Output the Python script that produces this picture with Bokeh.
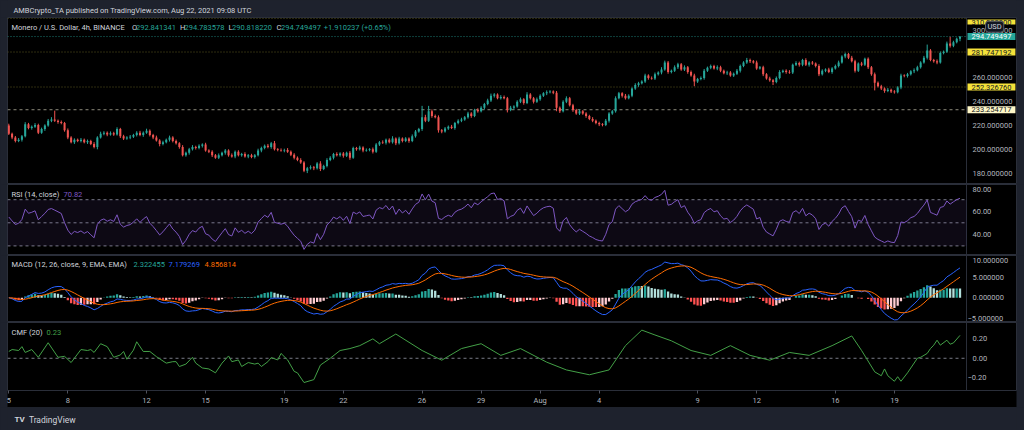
import numpy as np
import pandas as pd
from bokeh.plotting import figure
from bokeh.layouts import column
from bokeh.models import Range1d, Span, BoxAnnotation, Label, FixedTicker
from bokeh.core.properties import value
from bokeh.embed import file_html
from bokeh.resources import INLINE

# ---------------- data ----------------
start_time = "2021-07-05 00:00"          # first 4h candle
first_open = 220.0
closes = [
    213, 210, 207, 208, 211, 221, 218, 219, 220.5, 214,
    217, 220, 224, 225, 224, 223, 222, 216, 210, 206,
    208, 207, 208, 206, 207, 204.5, 202, 210, 213, 214,
    212.5, 213.5, 212.5, 217, 211, 209, 210, 210.5, 212, 214,
    212, 214, 215.5, 212, 210, 207.5, 204.5, 206, 208, 210,
    207, 205, 202, 195, 197, 200, 202, 201, 203, 204,
    199, 198, 195, 193, 195, 197, 199, 195, 194, 198,
    195, 196, 194, 195, 193.5, 195, 199, 201, 203, 202,
    205, 200, 199.5, 199, 199.5, 198, 195.5, 193, 191, 189,
    182, 184, 185, 184, 188, 183.5, 186, 191, 193, 196,
    195, 196.5, 194.5, 197, 193, 201, 200, 201.5, 199, 199.5,
    200, 198, 204, 206, 205.5, 208, 206, 209, 205, 209,
    207, 209, 207, 211, 215, 217, 227, 224, 232, 228,
    227, 216, 215, 217.5, 219, 218, 222, 224, 225, 227,
    230, 228, 233, 232, 235, 238, 241, 245, 246, 243,
    244, 243, 233, 235, 236, 240, 242, 239, 246, 243,
    240, 242, 245, 247, 248, 248.5, 247.5, 235, 232, 240,
    243, 237, 233, 230, 232, 230, 228, 225.5, 224, 222,
    221, 220.5, 224, 230, 232, 243, 247, 245, 243, 245,
    251, 254, 255.5, 257, 262, 260, 259.5, 263, 264.5, 267,
    273, 265, 266, 269, 271.5, 267, 269, 265, 262, 257,
    259, 260, 266, 268.5, 270, 268, 269, 266, 264, 264.5,
    262, 263.5, 266, 270, 273, 275, 274, 273, 268, 269,
    263, 259.5, 258, 256.5, 260, 265, 266, 265, 264.5, 271,
    272.5, 271, 275, 271, 273, 272, 270, 263, 266, 267,
    265, 268, 270, 273, 278, 280, 277, 274, 266, 272,
    271, 276, 269, 263, 256, 253, 251, 249, 250, 248.5,
    248, 252, 262, 261.5, 263, 265.5, 266.5, 269, 273, 277,
    283, 275, 274, 273, 281, 282, 289, 287, 290, 292.841341,
    294.749497,
]
wick_up = [
    1.5, 1.0, 1.2, 1.5, 1.0, 1.8, 1.2, 1.0, 1.5, 1.0,
    1.2, 1.0, 1.5, 2.0, 7.5, 1.0, 1.2, 1.0, 1.5, 1.0,
    1.2, 1.0, 1.5, 1.0, 1.2, 1.0, 1.5, 1.0, 1.8, 1.2,
    1.0, 1.5, 1.2, 1.5, 1.0, 1.2, 1.0, 1.5, 1.0, 1.2,
    1.5, 1.0, 1.8, 1.2, 1.0, 1.5, 1.0, 1.2, 1.0, 1.5,
    1.0, 1.2, 1.0, 1.5, 1.0, 1.2, 1.5, 1.0, 1.2, 1.0,
    1.5, 1.0, 1.2, 1.0, 1.5, 1.0, 1.2, 1.0, 1.5, 1.0,
    1.2, 1.0, 1.5, 1.0, 1.2, 1.0, 1.5, 1.2, 1.0, 1.5,
    1.2, 2.0, 1.0, 1.2, 1.0, 1.5, 1.0, 1.2, 1.0, 1.5,
    1.0, 1.2, 1.5, 1.0, 1.2, 2.0, 1.0, 1.5, 1.2, 1.0,
    1.5, 1.0, 1.2, 1.0, 1.5, 1.2, 1.0, 1.5, 1.0, 1.2,
    1.0, 1.5, 1.2, 1.0, 1.5, 1.0, 1.2, 2.0, 1.0, 1.5,
    1.0, 1.2, 1.0, 1.5, 1.2, 1.0, 9.5, 2.0, 4.5, 1.5,
    1.2, 1.5, 1.0, 1.2, 1.0, 1.5, 1.0, 1.2, 1.5, 1.0,
    1.5, 1.2, 1.0, 1.5, 1.2, 1.0, 1.5, 1.8, 1.2, 1.0,
    1.5, 1.2, 1.0, 1.5, 1.0, 1.2, 1.5, 1.0, 2.0, 1.2,
    1.0, 1.5, 1.2, 1.0, 1.5, 1.2, 1.0, 1.5, 1.0, 1.2,
    1.5, 1.0, 1.2, 1.0, 1.5, 1.0, 1.2, 1.0, 1.5, 1.0,
    1.2, 1.0, 1.5, 1.2, 1.0, 1.5, 1.2, 1.0, 1.5, 1.2,
    1.0, 1.5, 1.2, 1.0, 1.5, 1.0, 1.2, 1.5, 1.0, 2.0,
    1.5, 1.2, 1.0, 1.5, 1.2, 1.0, 1.5, 1.0, 1.2, 1.5,
    1.0, 1.2, 1.5, 1.0, 1.2, 1.0, 1.5, 1.2, 1.0, 1.5,
    1.2, 1.0, 1.5, 1.2, 1.0, 1.8, 1.2, 1.0, 1.5, 1.0,
    1.2, 1.0, 1.5, 1.0, 1.2, 1.5, 1.0, 1.2, 1.5, 1.0,
    1.5, 1.2, 1.0, 1.5, 1.0, 1.2, 1.0, 1.5, 1.2, 1.0,
    1.5, 1.0, 1.2, 1.5, 1.0, 1.2, 1.0, 1.5, 1.2, 1.0,
    1.5, 1.0, 1.2, 1.0, 1.5, 1.0, 1.2, 1.0, 1.5, 1.0,
    1.2, 1.0, 1.5, 1.0, 1.2, 1.0, 1.5, 1.2, 1.0, 1.5,
    5.0, 1.2, 1.0, 1.5, 1.2, 1.0, 1.5, 5.5, 1.2, 1.0,
    0.034081,
]
wick_dn = [
    1.0, 1.5, 1.2, 1.0, 1.5, 1.0, 1.2, 1.5, 1.0, 1.2,
    1.0, 1.5, 1.0, 1.2, 1.0, 1.5, 1.0, 1.2, 1.5, 1.0,
    1.5, 1.0, 1.2, 1.0, 1.5, 1.0, 1.2, 2.0, 1.0, 1.2,
    1.5, 1.0, 1.2, 1.0, 1.5, 1.2, 1.0, 1.5, 1.0, 1.2,
    1.0, 1.5, 1.0, 1.2, 1.5, 1.0, 2.0, 1.2, 1.0, 1.5,
    1.2, 1.0, 1.5, 1.0, 1.2, 1.5, 1.0, 1.2, 1.0, 1.5,
    1.0, 1.2, 1.5, 1.0, 1.2, 1.0, 1.5, 1.2, 1.0, 1.5,
    1.0, 1.2, 1.0, 1.5, 1.0, 1.2, 1.0, 1.5, 1.0, 1.2,
    1.5, 1.0, 1.2, 1.0, 1.5, 1.0, 1.2, 1.5, 1.0, 1.2,
    1.2, 2.0, 1.0, 1.5, 1.0, 1.8, 1.0, 1.2, 1.0, 1.5,
    1.0, 1.2, 1.5, 1.0, 1.8, 1.0, 1.2, 1.0, 1.5, 1.0,
    1.2, 1.5, 1.0, 1.2, 1.0, 1.5, 1.0, 1.2, 1.5, 1.0,
    1.2, 1.0, 1.5, 1.0, 1.2, 1.0, 1.5, 1.2, 1.0, 1.5,
    1.0, 2.0, 1.5, 1.0, 1.2, 1.0, 1.5, 1.0, 1.2, 1.0,
    1.2, 1.5, 1.0, 1.2, 1.0, 1.5, 1.0, 1.2, 1.5, 1.0,
    1.2, 1.0, 2.0, 1.0, 1.5, 1.0, 1.2, 1.5, 1.0, 1.2,
    1.5, 1.0, 1.2, 1.0, 1.5, 1.0, 1.2, 3.0, 1.5, 1.0,
    1.2, 1.0, 1.5, 1.0, 1.2, 1.0, 1.5, 1.0, 1.2, 1.0,
    1.5, 1.2, 1.0, 1.5, 1.0, 1.2, 1.0, 1.5, 1.2, 1.0,
    1.2, 1.0, 1.5, 1.0, 1.2, 1.5, 1.0, 1.2, 1.0, 1.5,
    1.0, 1.5, 1.2, 1.0, 1.5, 1.0, 1.2, 1.5, 1.0, 4.0,
    1.2, 1.0, 1.5, 1.0, 1.2, 1.0, 1.5, 1.2, 1.0, 1.5,
    1.0, 1.2, 1.0, 1.5, 1.0, 1.2, 1.5, 1.0, 1.2, 1.0,
    1.5, 1.0, 1.2, 2.5, 1.0, 1.2, 1.0, 1.5, 1.0, 1.2,
    1.0, 1.5, 1.2, 1.0, 1.5, 1.0, 1.2, 1.5, 1.0, 1.2,
    1.0, 1.5, 1.0, 1.2, 1.0, 1.5, 1.2, 1.0, 1.5, 1.0,
    1.2, 1.0, 1.5, 1.2, 6.5, 1.0, 1.2, 1.5, 1.0, 1.2,
    1.2, 1.0, 1.5, 1.0, 1.2, 1.0, 1.5, 1.0, 1.2, 1.0,
    1.5, 1.0, 1.2, 1.5, 1.0, 1.2, 1.0, 1.5, 1.2, 1.0,
    2.023121,
]
cmf_idx = [0, 1, 3, 4, 5, 7, 9, 12, 15, 17, 19, 22, 24, 25, 26, 28, 30, 32, 34, 35,
           36, 38, 39, 41, 43, 45, 48, 50, 51, 52, 54, 56, 57, 59, 61, 63, 65, 67, 68, 70,
           71, 73, 75, 76, 77, 79, 80, 82, 83, 85, 87, 88, 90, 93, 95, 98, 101, 104, 107, 111,
           113, 118, 126, 132, 138, 144, 150, 156, 164, 170, 177, 183, 188, 193, 197, 202, 208, 214, 220, 226,
           232, 238, 244, 251, 257, 260, 264, 266, 267, 268, 270, 271, 272, 274, 277, 278, 280, 281, 282, 283,
           284, 286, 287, 288, 290]
cmf_val = [0.07, 0.09, 0.08, 0.12, 0.06, 0.09, 0.01, 0.16, 0.01, 0.02,
           -0.044, 0.09, 0.08, 0.09, 0.06, 0.15, 0.12, 0.01, 0.034, 0.07,
           -0.01, 0.084, 0.17, 0.07, 0.07, 0.017, -0.05, -0.035, -0.035, -0.085,
           -0.06, 0.01, -0.05, -0.1, -0.11, -0.15, -0.05, 0.024, -0.035, -0.017,
           -0.085, -0.044, -0.06, -0.05, -0.085, -0.035, 0.007, -0.017, 0.05, -0.017,
           -0.135, -0.15, -0.25, -0.22, -0.07, 0.0, 0.08, 0.1, 0.13, 0.2,
           0.15, 0.25, 0.08, -0.02, 0.1, 0.15, 0.03, 0.1, -0.04, -0.12,
           -0.17, -0.12, 0.13, 0.29, 0.24, 0.18, 0.08, 0.03, 0.13, 0.03,
           -0.02, 0.06, 0.03, 0.13, 0.23, 0.08, -0.14, -0.18, -0.11, -0.18,
           -0.237, -0.19, -0.237, -0.15, 0.0, 0.01, 0.05, 0.1, 0.135, 0.186,
           0.135, 0.186, 0.145, 0.158, 0.236]

tick_dates = ["2021-07-05", "2021-07-08", "2021-07-12", "2021-07-15", "2021-07-19",
              "2021-07-22", "2021-07-26", "2021-07-29", "2021-08-01", "2021-08-04",
              "2021-08-09", "2021-08-12", "2021-08-16", "2021-08-19"]
tick_labels = ["5", "8", "12", "15", "19", "22", "26", "29", "Aug", "4", "9", "12", "16", "19"]
price_ticks = [180, 200, 220, 240, 260, 300]
rsi_ticks = [40, 60, 80]
macd_ticks = [-5, 0, 5, 10]
cmf_ticks = [-0.2, 0.0, 0.2]
levels_yellow = [310.0, 281.747192, 252.326760]
level_pale = 233.254717
last_price = 294.749497

title_text = "AMBCrypto_TA published on TradingView.com, Aug 22, 2021 09:08 UTC"
symbol_text = "Monero / U.S. Dollar, 4h, BINANCE"
ohlc_text = [("O", "292.841341"), ("H", "294.783578"), ("L", "290.818220"), ("C", "294.749497")]
change_text = "+1.910237 (+0.65%)"
rsi_title, rsi_last = "RSI (14, close)", "70.82"
macd_title, macd_last = "MACD (12, 26, close, 9, EMA, EMA)", ["2.322455", "7.179269", "4.856814"]
cmf_title, cmf_last = "CMF (20)", "0.23"
logo_text = "TradingView"

# ---------------- derived series ----------------
assert len(closes) == len(wick_up) == len(wick_dn)
assert len(cmf_idx) == len(cmf_val)
c = np.array(closes, dtype=float)
o = np.r_[first_open, c[:-1]]
h = np.maximum(o, c) + np.array(wick_up)
l = np.minimum(o, c) - np.array(wick_dn)
n = len(c)
x = np.arange(n)
t0 = pd.Timestamp(start_time)
tick_pos = [int((pd.Timestamp(d) - t0) / pd.Timedelta(hours=4)) for d in tick_dates]

UP, DN = "#26a69a", "#ef5350"
col = np.where(c >= o, UP, DN)

# RSI 14 (Wilder smoothing, seeded with the mean of the first 14 changes)
d = np.diff(c, prepend=first_open)
g = np.clip(d, 0, None)
ls = np.clip(-d, 0, None)
ag = np.empty(n)
al = np.empty(n)
ag[0], al[0] = g[:14].mean(), ls[:14].mean()
for i in range(1, n):
    ag[i] = (ag[i - 1] * 13 + g[i]) / 14
    al[i] = (al[i - 1] * 13 + ls[i]) / 14
rsi = 100 - 100 / (1 + ag / al)

# MACD 12/26/9
s = pd.Series(c)
macd = (s.ewm(span=12, adjust=False).mean() - s.ewm(span=26, adjust=False).mean()).values
sig = pd.Series(macd).ewm(span=9, adjust=False).mean().values
hist = macd - sig
prev = np.r_[hist[0], hist[:-1]]
hcol = np.where(hist >= 0, np.where(hist >= prev, "#26a69a", "#b2dfdb"),
                np.where(hist < prev, "#ff5252", "#ffcdd2"))

# ---------------- layout geometry (page pixels) ----------------
BG = "#1e222d"
TXT = "#b2b5be"
HEAD = "#d1d4dc"
SEP = "#2a2e39"
FONT = "Roboto"
W = 1024
PX0, PXSTEP = 8.3, 3.28       # page x of first candle, px per candle
FRAME_L, FRAME_R, SCALE_X = 7, 1016, 966
panes = {                      # top, bottom, anchor value, anchor page y, px per unit
    "price": (17, 184, 220.0, 125.0, 1.19),
    "rsi": (184, 255, 50.0, 222.3, 1.155),
    "macd": (255, 322, 0.0, 297.3, 4.07),
    "cmf": (322, 391, 0.0, 358.3, 98.5),
}


def xd(px):
    return (px - PX0) / PXSTEP


def yd(name, py):
    top, bot, a, ay, k = panes[name]
    return a + (ay - py) / k


def ypx(name, v):
    top, bot, a, ay, k = panes[name]
    return ay - (v - a) * k


def inside(name, v, half):
    """keep a text of half-height `half` (px) inside its pane"""
    top, bot = panes[name][:2]
    py = min(max(ypx(name, v), top + half), bot - half)
    return yd(name, py)


def yrange(name):
    top, bot, a, ay, k = panes[name]
    return Range1d(yd(name, bot), yd(name, top))


xr = Range1d(xd(FRAME_L), xd(FRAME_R))
XSEP = xd(SCALE_X)


def mk(name, xaxis=False, bottom_border=0):
    top, bot = panes[name][:2]
    p = figure(width=W, height=(bot - top) + bottom_border, x_range=xr, y_range=yrange(name),
               output_backend="svg", toolbar_location=None, tools="",
               y_axis_location=None, x_axis_location="below" if xaxis else None,
               min_border=0, min_border_left=FRAME_L, min_border_right=W - FRAME_R,
               min_border_top=0, min_border_bottom=bottom_border,
               background_fill_color="#000000", border_fill_color=BG,
               outline_line_color=SEP)
    p.xgrid.visible = False
    p.ygrid.visible = False
    p.add_layout(Span(location=XSEP, dimension="height", line_color=SEP, line_width=1))
    return p


def strip(height, top):
    p = figure(width=W, height=height, x_range=Range1d(0, W), y_range=Range1d(top + height, top),
               output_backend="svg", toolbar_location=None, tools="",
               x_axis_location=None, y_axis_location=None, min_border=0,
               background_fill_color=BG, border_fill_color=BG, outline_line_color=None)
    p.xgrid.visible = False
    p.ygrid.visible = False
    return p


def scale_labels(p, name, ticks, fmt, px=972):
    labs = [(fmt % v).replace("-", "\u2212") for v in ticks]
    xs = [xd(px - (5 if v < 0 else 0)) for v in ticks]
    ys = [inside(name, v, 4.5) for v in ticks]
    p.text(x=xs, y=ys, text=labs, text_font=value(FONT), text_font_size="7.5px",
           text_color=TXT, text_baseline="middle", text_align="left")


def level(p, y, color, dash):
    p.segment(x0=[xr.start], y0=[y], x1=[XSEP], y1=[y], line_color=color,
              line_dash=dash, line_width=1)


def text(p, pane, s, px, py, color=TXT, size="7.5px", style="normal"):
    yy = yd(pane, py) if pane else py
    p.add_layout(Label(x=xd(px) if pane else px, y=yy, text=s, text_color=color,
                       text_font=FONT, text_font_size=size, text_font_style=style,
                       text_baseline="middle", text_align="left"))


def tag(p, lv, bg, fg, half=5.5, pad=None):
    p.add_layout(Label(x=xd(967), y=inside("price", lv, half), text=f"{lv:.6f}",
                       text_color=fg, text_font=FONT, text_font_size="7.5px",
                       text_baseline="middle", text_align="left",
                       background_fill_color=bg,
                       padding=pad or dict(left=4, right=4, top=1, bottom=1)))


# ---------------- title strip ----------------
p0 = strip(17, 0)
text(p0, None, title_text, 6, 9.5, color=HEAD)

# ---------------- price pane ----------------
p1 = mk("price")
scale_labels(p1, "price", price_ticks, "%.6f")
for lv in levels_yellow:
    level(p1, lv, "#5b5720", "1 2")
level(p1, level_pale, "#8d8b7c", "3 3")
level(p1, last_price, "#1d7d74", "1 2")
p1.segment(x, h, x, l, color=col, line_width=1)
p1.vbar(x=x, width=0.62, top=np.maximum(o, c), bottom=np.minimum(o, c),
        fill_color=col, line_color=None)

text(p1, "price", symbol_text, 11, 27.3, color=HEAD)
ohlc_x = [(131.5, 135.5), (179.5, 184.0), (228.0, 231.5), (276.0, 280.5)]
for (lab, val), (lx, vx) in zip(ohlc_text, ohlc_x):
    text(p1, "price", lab, lx, 27.3, color=HEAD)
    text(p1, "price", val, vx, 27.3, color=UP)
text(p1, "price", change_text, 323.3, 27.3, color=UP)

# price tags on the scale; the top one, then the "USD" badge, then the others
tag(p1, levels_yellow[0], "#f5e23a", "#131722", half=4.5,
    pad=dict(left=4, right=4, top=0, bottom=0))
p1.add_layout(Label(x=xd(985), y=yd("price", 26.2), text="USD", text_color=HEAD,
                    text_font=FONT, text_font_size="7.5px", text_baseline="middle",
                    text_align="left", background_fill_color="#131722",
                    border_line_color="#5d606b", border_radius=3,
                    padding=dict(left=2, right=2, top=1, bottom=1)))
tag(p1, levels_yellow[1], "#f5e23a", "#131722")
tag(p1, levels_yellow[2], "#f5e23a", "#131722")
tag(p1, level_pale, "#fff8c8", "#131722")
tag(p1, last_price, "#26a69a", "#ffffff")

# ---------------- RSI pane ----------------
p2 = mk("rsi")
scale_labels(p2, "rsi", rsi_ticks, "%.2f")
p2.add_layout(BoxAnnotation(bottom=30, top=70, right=XSEP, fill_color="#7e57c2",
                            fill_alpha=0.1, line_color=None))
for lv in (70, 50, 30):
    level(p2, lv, "#787b86", "3 3")
p2.line(x, rsi, color="#7e57c2", line_width=1)
text(p2, "rsi", rsi_title, 11, 194, color=HEAD)
text(p2, "rsi", rsi_last, 63, 194, color="#7e57c2")

# ---------------- MACD pane ----------------
p3 = mk("macd")
scale_labels(p3, "macd", macd_ticks, "%.6f")
p3.vbar(x=x, width=0.7, top=hist, bottom=0, fill_color=hcol, line_color=None)
p3.line(x, macd, color="#2962ff", line_width=1)
p3.line(x, sig, color="#ff6d00", line_width=1)
text(p3, "macd", macd_title, 11, 264.3, color=HEAD)
for s_, px_, cl in zip(macd_last, (133, 168, 204), ("#26a69a", "#2962ff", "#ff6d00")):
    text(p3, "macd", s_, px_, 264.3, color=cl)

# ---------------- CMF pane (with the time axis) ----------------
p4 = mk("cmf", xaxis=True, bottom_border=16)
scale_labels(p4, "cmf", cmf_ticks, "%.2f")
level(p4, 0, "#787b86", "3 3")
p4.line(cmf_idx, cmf_val, color="#43a047", line_width=1)
text(p4, "cmf", cmf_title, 11, 332.3, color=HEAD)
text(p4, "cmf", cmf_last, 46, 332.3, color="#43a047")

xa = p4.xaxis[0]
xa.ticker = FixedTicker(ticks=tick_pos)
xa.major_label_overrides = {tp: lab for tp, lab in zip(tick_pos, tick_labels)}
xa.major_label_text_font = FONT
xa.major_label_text_font_size = "7.5px"
xa.major_label_text_color = TXT
xa.major_tick_out = 3
xa.major_tick_in = 0
xa.major_tick_line_color = "#50535e"
xa.minor_tick_line_color = None
xa.axis_line_color = SEP
xa.major_label_standoff = 2
try:
    xa.background_fill_color = "#000000"
except Exception:
    pass

# ---------------- logo strip ----------------
p5 = strip(23, 407)
text(p5, None, "TV", 7, 419, color=HEAD, size="8px", style="bold")
text(p5, None, logo_text, 21.7, 419, color=HEAD, size="8.5px")

layout = column(p0, p1, p2, p3, p4, p5, spacing=0)
html = file_html(layout, INLINE, title="XMR / USD")
html = html.replace("</head>", "<style>body{background:#1e222d;}</style></head>", 1)
open("out.html", "w").write(html)
